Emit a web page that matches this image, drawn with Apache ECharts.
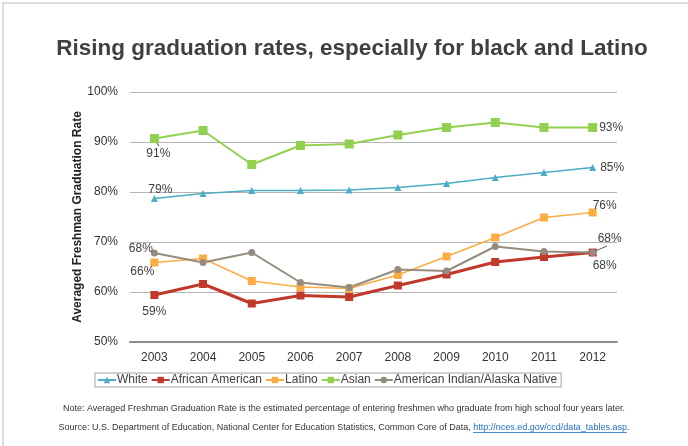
<!DOCTYPE html>
<html>
<head>
<meta charset="utf-8">
<script src="https://cdn.jsdelivr.net/npm/echarts@6/dist/echarts.min.js"></script>
<style>
  html, body { margin: 0; padding: 0; background: #fff; }
  #chart { width: 688px; height: 446px; }
</style>
</head>
<body>
<div id="chart"></div>
<script>
// Averaged freshman graduation rate by group, 2003-2012 (percent)
const years = ['2003', '2004', '2005', '2006', '2007', '2008', '2009', '2010', '2011', '2012'];
const white = [78.7, 79.7, 80.3, 80.3, 80.4, 80.9, 81.7, 82.9, 83.9, 84.9];
const africanAmerican = [59.4, 61.6, 57.7, 59.3, 59.0, 61.3, 63.5, 66.0, 67.0, 67.9];
const latino = [65.9, 66.7, 62.2, 61.0, 60.7, 63.4, 67.1, 70.9, 74.9, 75.9];
const asian = [90.7, 92.3, 85.5, 89.3, 89.6, 91.4, 92.9, 93.9, 92.9, 92.9];
const americanIndian = [67.8, 65.9, 67.9, 61.9, 60.9, 64.5, 64.2, 69.1, 68.1, 67.9];
const yTicks = [50, 60, 70, 80, 90, 100];

const FONT = 'Liberation Sans, Arial, sans-serif';
const labelText = { color: '#404040', fontSize: 12, fontFamily: FONT };

// Attach value labels to the first and last point of a series
function withEndLabels(values, first, last) {
  const fmt = p => Math.round(p.value) + '%';
  return values.map((v, i) => {
    if (i === 0) return { value: v, label: Object.assign({ show: true, formatter: fmt }, labelText, first) };
    if (i === values.length - 1) return { value: v, label: Object.assign({ show: true, formatter: fmt }, labelText, last) };
    return v;
  });
}

const chart = echarts.init(document.getElementById('chart'), null, { renderer: 'canvas' });

const option = {
  backgroundColor: '#fff',
  animation: false,
  textStyle: { fontFamily: FONT },
  title: {
    text: 'Rising graduation rates, especially for black and Latino',
    left: 347, top: 32, textAlign: 'center',
    textStyle: { fontSize: 22.5, fontWeight: 'bold', color: '#404040', fontFamily: FONT }
  },
  grid: { left: 130, right: 71, top: 92, bottom: 104 },
  legend: {
    left: 95, top: 373,
    padding: [1, 4, 1, 2],
    itemGap: 3, itemWidth: 18, itemHeight: 8,
    borderColor: '#a0a0a0', borderWidth: 1,
    textStyle: { color: '#404040', fontSize: 12, padding: [0, 0, 0, -4] },
    data: ['White', 'African American', 'Latino', 'Asian', 'American Indian/Alaska Native']
  },
  xAxis: {
    type: 'category', data: years, boundaryGap: true,
    axisTick: { show: false },
    axisLine: { lineStyle: { color: '#8c8c8c', width: 2 } },
    axisLabel: { color: '#333', fontSize: 12, margin: 10 }
  },
  yAxis: {
    type: 'value', min: yTicks[0], max: yTicks[yTicks.length - 1], interval: 10,
    name: 'Averaged Freshman Graduation Rate',
    nameLocation: 'middle', nameGap: 46, nameRotate: 90,
    nameMoveOverlap: false,
    nameTextStyle: { fontWeight: 'bold', fontSize: 12, color: '#222' },
    axisLine: { show: false }, axisTick: { show: false },
    axisLabel: { color: '#333', fontSize: 12, margin: 12, formatter: '{value}%' },
    splitLine: { lineStyle: { color: '#b4b4b4', width: 1 } }
  },
  series: [
    {
      name: 'White', type: 'line', color: '#4bacc6',
      symbol: 'triangle', symbolSize: 7,
      lineStyle: { width: 1.5 },
      data: withEndLabels(white,
        { position: 'top', distance: -1, offset: [6, 0] },
        { position: 'right', distance: 4 })
    },
    {
      name: 'African American', type: 'line', color: '#c0392b',
      symbol: 'rect', symbolSize: 8,
      lineStyle: { width: 3 },
      data: withEndLabels(africanAmerican,
        { position: 'bottom', distance: 7 },
        { position: 'bottom', distance: 3, offset: [12, 0] })
    },
    {
      name: 'Latino', type: 'line', color: '#fbac43',
      symbol: 'rect', symbolSize: 8,
      lineStyle: { width: 1.5 },
      data: withEndLabels(latino,
        { position: 'bottom', distance: -1, offset: [-12, 0] },
        { position: 'top', distance: -3, offset: [12, 0] })
    },
    {
      name: 'Asian', type: 'line', color: '#92d050',
      symbol: 'rect', symbolSize: 9,
      lineStyle: { width: 2 },
      data: withEndLabels(asian,
        { position: 'bottom', distance: 5, offset: [4, 0] },
        { position: 'right', distance: 2 })
    },
    {
      name: 'American Indian/Alaska Native', type: 'line', color: '#958c80',
      symbol: 'circle', symbolSize: 7,
      lineStyle: { width: 2 },
      data: withEndLabels(americanIndian,
        { position: 'left', distance: 0, offset: [2, -4] },
        { position: 'top', distance: 4, offset: [17, 0] })
    }
  ],
  graphic: [
    // page frame (top and left edges)
    { type: 'polyline', shape: { points: [[3, 446], [3, 3], [688, 3]] }, style: { fill: 'none', stroke: '#dcdcdc', lineWidth: 2 }, silent: true },
    // leader lines for the Asian 2003 and American Indian 2012 labels
    { type: 'line', shape: { x1: 154, y1: 139, x2: 159, y2: 146 }, style: { stroke: '#404040', lineWidth: 1 } },
    { type: 'line', shape: { x1: 593, y1: 252, x2: 607, y2: 246 }, style: { stroke: '#595959', lineWidth: 1 } },
    {
      type: 'text', left: 'center', top: 404,
      style: {
        text: 'Note: Averaged Freshman Graduation Rate is the estimated percentage of entering freshmen who graduate from high school four years later.',
        fill: '#333', fontSize: 9, fontFamily: FONT
      }
    },
    {
      type: 'text', left: 'center', top: 423,
      style: {
        text: 'Source: U.S. Department of Education, National Center for Education Statistics, Common Core of Data, {link|http://nces.ed.gov/ccd/data_tables.asp}.',
        fill: '#333', fontSize: 9, fontFamily: FONT,
        rich: { link: { fill: '#1f6fc5', fontSize: 9, fontFamily: FONT } }
      }
    },
    // underline of the source link
    { type: 'line', shape: { x1: 473, y1: 432.5, x2: 627, y2: 432.5 }, style: { stroke: '#1f6fc5', lineWidth: 0.8 } }
  ]
};

chart.setOption(option);
</script>
</body>
</html>
